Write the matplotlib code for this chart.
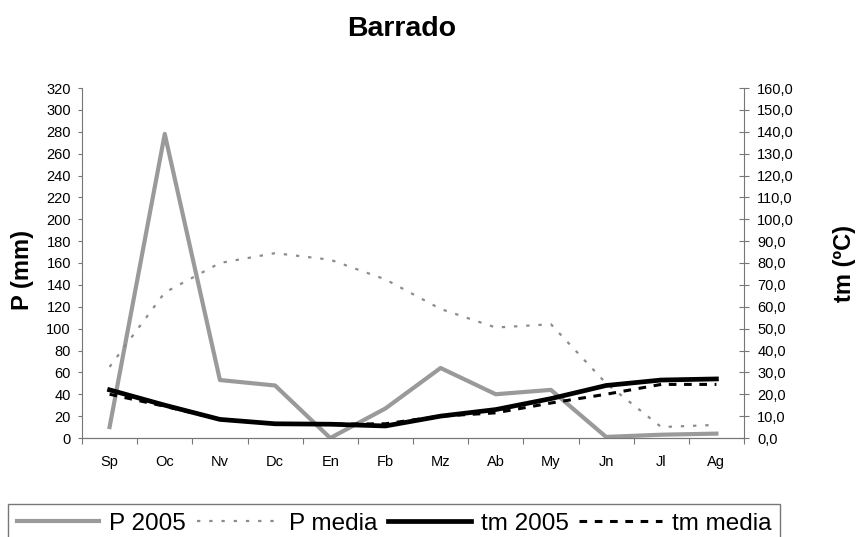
import matplotlib.pyplot as plt
import numpy as np

plt.rcParams['font.family'] = ['Liberation Sans', 'DejaVu Sans']

meses = ['Sp', 'Oc', 'Nv', 'Dc', 'En', 'Fb', 'Mz', 'Ab', 'My', 'Jn', 'Jl', 'Ag']
p_2005 = [10, 278, 53, 48, 0, 27, 64, 40, 44, 1, 3, 4]
p_media = [65, 133, 160, 169, 163, 145, 118, 101, 104, 50, 10, 12]
tm_2005 = [22, 15, 8.5, 6.5, 6.3, 5.5, 10, 13, 18, 24, 26.5, 27]
tm_media = [20, 14.5, 8.5, 6.5, 6.3, 6.5, 10, 11.5, 16, 20, 24.5, 24.5]

x = np.arange(len(meses))
gris = '#777777'

fig = plt.figure(figsize=(8.56, 5.37), dpi=100)
ax = fig.add_axes([82/856, 1-438/537, (744-82)/856, (438-88)/537])
ax2 = ax.twinx()

l1, = ax.plot(x, p_2005, color='#9a9a9a', lw=3, label='P 2005')
l2, = ax.plot(x, p_media, color='#8c8c8c', lw=1.6, ls=(0, (1.5, 4)), label='P media')
l3, = ax2.plot(x, tm_2005, color='black', lw=3.4, label='tm 2005')
l4, = ax2.plot(x, tm_media, color='black', lw=2.2, ls=(0, (2.5, 2.5)), label='tm media')

ax.set_xlim(-0.5, 11.5)
ax.set_ylim(0, 320)
ax2.set_ylim(0, 160)
ax.set_yticks(np.arange(0, 321, 20))
ax2.set_yticks(np.arange(0, 161, 10))
ax2.set_yticklabels([f'{v:.1f}'.replace('.', ',') for v in np.arange(0, 161, 10)])

ax.set_xticks(np.arange(-0.5, 12, 1))
ax.set_xticklabels([])
ax.set_xticks(x, minor=True)
ax.set_xticklabels(meses, minor=True)
ax.tick_params(axis='x', which='minor', length=0, pad=12, labelsize=10.5)
ax.tick_params(axis='x', which='major', length=4, color=gris)
ax.tick_params(axis='y', length=3, color=gris, labelsize=10.5, pad=5)
ax2.tick_params(axis='y', direction='inout', length=7, color=gris, labelsize=10.5, pad=6)

for a in (ax, ax2):
    for s in ('top', 'left', 'right'):
        a.spines[s].set_visible(False)
    a.spines['bottom'].set_color(gris)
ax.spines['left'].set_visible(True)
ax.spines['left'].set_color(gris)
ax2.spines['right'].set_visible(True)
ax2.spines['right'].set_color(gris)

fig.text(22/856, 1-270/537, 'P (mm)', fontsize=17, fontweight='bold',
         rotation=90, ha='center', va='center')
fig.text(845/856, 1-264/537, 'tm (ºC)', fontsize=17, fontweight='bold',
         rotation=90, ha='center', va='center')
fig.text(402/856, 1-36/537, 'Barrado', fontsize=20.5, fontweight='bold',
         ha='center', va='baseline')

fig.legend(handles=[l1, l2, l3, l4], loc='upper left',
           bbox_to_anchor=(8/856, 1-504/537), borderaxespad=0, ncol=4,
           frameon=True, fancybox=False, edgecolor='#555555', fontsize=17.5,
           handlelength=3.4, handletextpad=0.4, columnspacing=0.45,
           borderpad=0.35)

fig.savefig('out.png', dpi=100)
